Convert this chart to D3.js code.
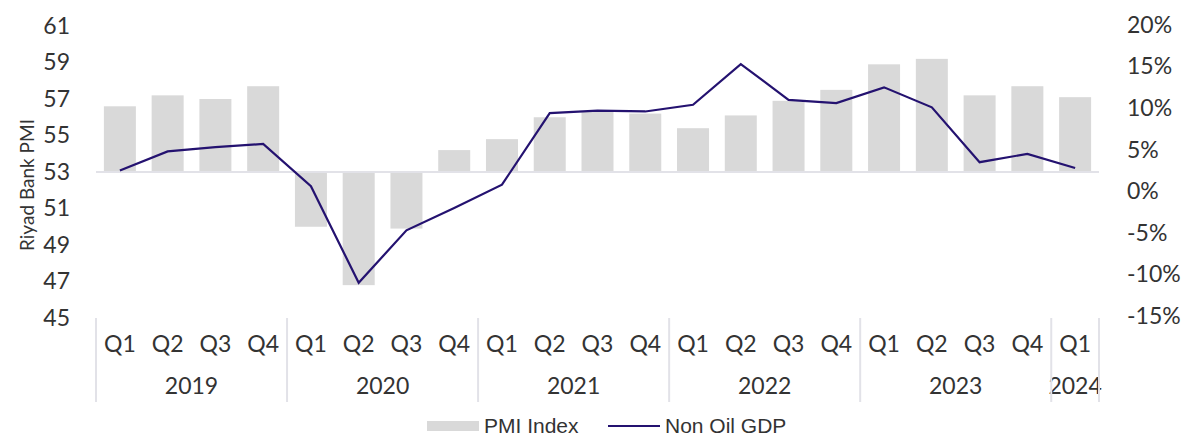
<!DOCTYPE html>
<html><head><meta charset="utf-8">
<script src="https://cdn.jsdelivr.net/npm/d3@7"></script>
<style>body{margin:0;background:#fff;}svg{display:block;}</style>
</head><body>
<svg id="c" width="1189" height="437"></svg>
<script>
const quarters = ["Q1","Q2","Q3","Q4","Q1","Q2","Q3","Q4","Q1","Q2","Q3","Q4","Q1","Q2","Q3","Q4","Q1","Q2","Q3","Q4","Q1"];
const years = ["2019","2019","2019","2019","2020","2020","2020","2020","2021","2021","2021","2021","2022","2022","2022","2022","2023","2023","2023","2023","2024"];
const pmi = [56.6,57.2,57.0,57.7,50.0,46.8,49.9,54.2,54.8,56.0,56.3,56.2,55.4,56.1,56.9,57.5,58.9,59.2,57.2,57.7,57.1];
const gdp = [2.5,4.8,5.3,5.7,0.6,-11.0,-4.7,-2.0,0.8,9.4,9.7,9.6,10.4,15.3,11.0,10.6,12.5,10.1,3.5,4.5,2.8];
const leftTicks = [45,47,49,51,53,55,57,59,61];
const rightTicks = [-15,-10,-5,0,5,10,15,20];

const svg = d3.select("#c");
const idx = d3.range(quarters.length);
const x = d3.scaleBand().domain(idx).range([96,1099]).paddingInner(0.33).paddingOuter(0.165);
const yL = d3.scaleLinear().domain([45,61]).range([318,26]);
const yR = d3.scaleLinear().domain([-15,20]).range([316,25]);
const font = "Lato, 'Noto Sans', sans-serif";
const fs = 23;

// bars
svg.append("g").selectAll("rect").data(idx).join("rect")
  .attr("x", i => x(i))
  .attr("width", x.bandwidth())
  .attr("y", i => Math.min(yL(pmi[i]), yL(53)))
  .attr("height", i => Math.abs(yL(pmi[i]) - yL(53)))
  .attr("fill", "#d9d9d9");

// baseline at 53
svg.append("line").attr("x1",96).attr("x2",1099).attr("y1",yL(53)).attr("y2",yL(53))
  .attr("stroke","#e2e2e8").attr("stroke-width",2);

// line
const cx = i => x(i) + x.bandwidth()/2;
svg.append("path").datum(idx)
  .attr("d", d3.line().x(i => cx(i)).y(i => yR(gdp[i])))
  .attr("fill","none").attr("stroke","#241270").attr("stroke-width",2.2);

// left axis
const gl = svg.append("g").attr("transform","translate(70,0)")
  .call(d3.axisLeft(yL).tickValues(leftTicks).tickSize(0).tickPadding(0).tickFormat(d3.format("d")));
gl.select(".domain").remove();
gl.selectAll("text").attr("font-family",font).attr("font-size",fs).attr("fill","#333");

// right axis
const gr = svg.append("g").attr("transform","translate(1127,0)")
  .call(d3.axisRight(yR).tickValues(rightTicks).tickSize(0).tickPadding(0).tickFormat(d => d + "%"));
gr.select(".domain").remove();
gr.selectAll("text").attr("font-family",font).attr("font-size",fs).attr("fill","#333");

// left title
svg.append("text").attr("transform","translate(34,185) rotate(-90)")
  .attr("text-anchor","middle").attr("font-family",font).attr("font-size",19).attr("fill","#333")
  .text("Riyad Bank PMI");

// category axis
const step = x.step();
const x0 = 96;
svg.append("g").selectAll("text").data(idx).join("text")
  .attr("x", i => cx(i)).attr("y", 352)
  .attr("text-anchor","middle").attr("font-family",font).attr("font-size",fs).attr("fill","#333")
  .text(i => quarters[i]);

const yearGroups = d3.groups(idx, i => years[i]);
svg.append("g").selectAll("text").data(yearGroups).join("text")
  .attr("x", g => (cx(g[1][0]) + cx(g[1][g[1].length-1]))/2).attr("y", 394)
  .attr("text-anchor","middle").attr("font-family",font).attr("font-size",fs).attr("fill","#333")
  .text(g => g[0]);

const seps = [0];
yearGroups.forEach(g => seps.push(g[1][g[1].length-1] + 1));
svg.append("g").selectAll("line").data(seps).join("line")
  .attr("x1", s => x0 + s*step).attr("x2", s => x0 + s*step)
  .attr("y1", 318).attr("y2", 402)
  .attr("stroke","#e2e2e8").attr("stroke-width",2);

// legend
const lg = svg.append("g");
const lf = "'Liberation Sans', Arial, sans-serif";
lg.append("rect").attr("x",427).attr("y",421).attr("width",52).attr("height",10).attr("fill","#d9d9d9");
lg.append("text").attr("x",484).attr("y",433).attr("font-family",lf)
  .attr("font-size",21).attr("fill","#333").text("PMI Index");
lg.append("line").attr("x1",608).attr("x2",660).attr("y1",426).attr("y2",426)
  .attr("stroke","#241270").attr("stroke-width",2);
lg.append("text").attr("x",665).attr("y",433).attr("font-family",lf)
  .attr("font-size",21).attr("fill","#333").text("Non Oil GDP");
</script>
</body></html>
